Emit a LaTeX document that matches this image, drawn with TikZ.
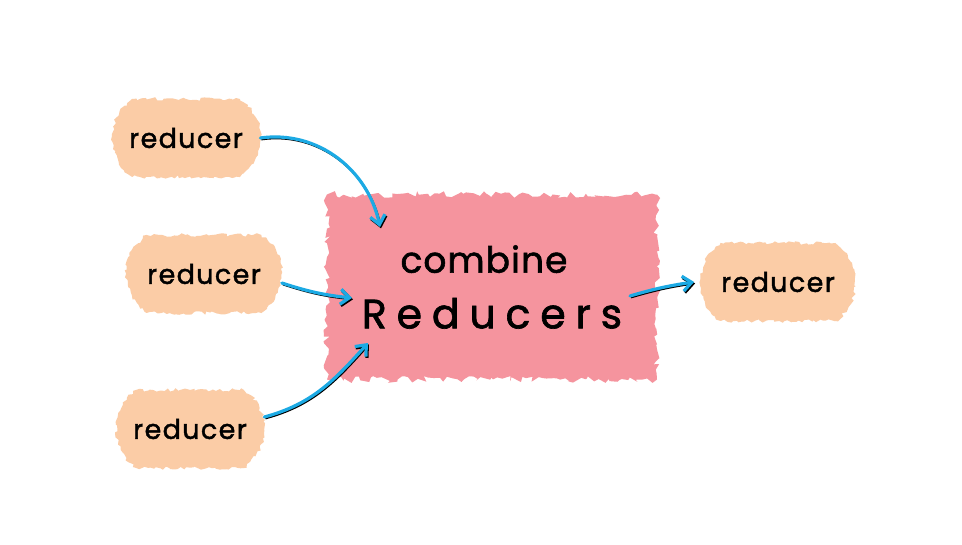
\documentclass[tikz,border=0pt]{standalone}
\usepackage{fontspec}
\newfontfamily\handfont[LetterSpace=5, FakeBold=1.6]{Poppins}
\newfontfamily\combfont[LetterSpace=3, FakeBold=1.6]{Poppins}
\newfontfamily\redfont[LetterSpace=24, FakeBold=1.6]{Poppins}
\usetikzlibrary{arrows.meta,decorations.pathmorphing,shapes.misc}
\definecolor{peach}{RGB}{251,204,166}
\definecolor{blush}{RGB}{245,148,158}
\definecolor{inkblue}{RGB}{28,170,228}
\tikzset{
  blob/.style={shape=rounded rectangle, rounded rectangle arc length=110,
    fill=peach, decorate,
    decoration={random steps, segment length=3pt, amplitude=1.8pt},
    minimum width=155pt, minimum height=78pt,
    font=\handfont\fontsize{27}{30}\selectfont},
  bigblob/.style={shape=rectangle, fill=blush, decorate,
    decoration={random steps, segment length=4pt, amplitude=3.5pt},
    minimum width=330pt, minimum height=185pt, inner xsep=0pt, align=center},
  feed/.style={draw=inkblue, line width=3.2pt, line cap=round,
    -{Straight Barb[length=9pt, width=15pt, line width=3.2pt]},
    preaction={draw=black, line width=2pt,
      transform canvas={shift={(1pt,-1.4pt)}}}}
}
\begin{document}
\begin{tikzpicture}[x=1pt, y=1pt]
  \fill[white] (0,0) rectangle (962,545);
  \useasboundingbox (0,0) rectangle (962,545);

  % inputs
  \node[blob] (r1) at (186,407) {reducer};
  \node[blob, minimum width=162pt] (r2) at (204,271) {reducer};
  \node[blob, minimum width=155pt] (r3) at (190,116) {reducer};

  % combine
  \node[bigblob] (comb) at (492,258)
    {{\combfont\fontsize{36}{40}\selectfont combine\hspace*{16pt}}\\[24pt]
     {\redfont\fontsize{41}{44}\selectfont Reducers}};

  % output
  \node[blob, minimum width=162pt] (rout) at (778,263) {reducer};

  % arrows
  \draw[feed] (r1.east) to[out=8, in=102] ([xshift=-112pt, yshift=60pt]comb.center);
  \draw[feed] ([yshift=-9pt]r2.east) to[bend right=6] ([xshift=-140pt, yshift=-11pt]comb.center);
  \draw[feed] ([yshift=12pt]r3.east) to[out=15, in=228] ([xshift=-124pt, yshift=-56pt]comb.center);
  \draw[feed] ([xshift=138pt, yshift=-9pt]comb.center) to[bend left=4] ([xshift=-6pt]rout.west);
\end{tikzpicture}
\end{document}
